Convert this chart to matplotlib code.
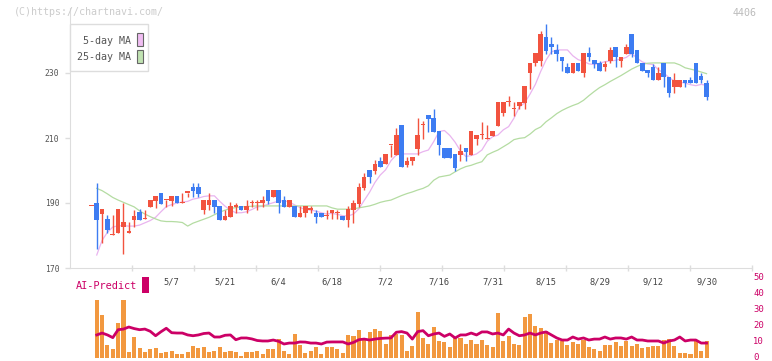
import numpy as np
import matplotlib.pyplot as plt
from matplotlib.patches import Rectangle
from matplotlib.transforms import ScaledTranslation

plt.rcParams['font.family'] = ['DejaVu Sans Mono']

# ---- data (daily candles, 4406) ----
date_labels = ['5/7', '5/21', '6/4', '6/18', '7/2', '7/16', '7/31', '8/15', '8/29', '9/12', '9/30']
label_days = [15, 25, 35, 45, 55, 65, 75, 85, 95, 105, 115]

opens = [189.0, 190.1, 186.6, 185.0, 180.1, 180.9, 182.7, 180.9, 184.8, 187.2,
         185.0, 188.9, 190.7, 193.1, 190.9, 190.7, 192.2, 189.9, 193.2, 195.0,
         195.0, 187.8, 189.5, 190.9, 189.1, 184.8, 185.8, 188.9, 189.1, 187.8,
         189.9, 189.9, 189.9, 194.0, 192.0, 194.0, 190.9, 188.9, 189.1, 185.8,
         186.8, 188.0, 187.0, 187.0, 186.0, 186.8, 186.8, 186.0, 184.8, 187.8,
         189.7, 194.6, 200.2, 199.9, 203.0, 202.0, 207.9, 204.9, 214.0, 201.8,
         202.8, 206.6, 213.9, 217.1, 216.2, 212.3, 206.9, 206.9, 205.1, 204.9,
         206.9, 204.9, 209.8, 210.9, 209.8, 210.7, 213.8, 217.8, 221.1, 218.8,
         219.8, 220.9, 229.9, 233.0, 233.8, 241.0, 238.9, 237.1, 234.8, 231.9,
         229.9, 233.0, 229.9, 236.3, 234.0, 233.0, 231.9, 233.8, 237.9, 233.8,
         235.8, 242.0, 237.1, 233.0, 230.9, 231.9, 227.8, 233.0, 228.9, 225.8,
         225.8, 228.0, 228.0, 233.0, 229.1, 226.8]
highs = [189.0, 196.2, 188.2, 186.2, 186.3, 188.2, 189.9, 184.2, 188.0, 188.1,
         188.0, 190.9, 192.2, 193.1, 190.9, 192.2, 192.2, 193.2, 193.2, 196.2,
         196.2, 190.9, 193.0, 190.9, 189.1, 188.0, 190.3, 189.9, 189.1, 190.9,
         190.9, 190.9, 192.2, 194.0, 194.0, 194.0, 192.2, 190.9, 189.1, 189.1,
         189.1, 189.1, 188.0, 187.0, 188.0, 188.0, 188.0, 186.0, 189.1, 190.9,
         196.3, 199.1, 200.2, 203.2, 204.3, 205.1, 207.9, 213.1, 214.0, 204.3,
         204.1, 216.2, 215.1, 217.1, 218.8, 212.3, 206.9, 206.9, 205.1, 208.2,
         206.9, 212.2, 210.9, 214.9, 214.0, 212.2, 221.1, 221.1, 222.9, 221.1,
         221.1, 226.0, 233.0, 236.3, 242.8, 245.1, 241.0, 238.9, 234.8, 233.0,
         233.0, 233.0, 236.3, 237.9, 234.0, 233.8, 233.8, 238.1, 237.9, 234.8,
         238.9, 242.0, 237.1, 233.0, 230.9, 232.9, 231.9, 233.0, 228.9, 229.9,
         228.0, 228.0, 228.9, 233.0, 229.9, 227.8]
lows = [189.0, 175.9, 177.8, 180.9, 180.1, 180.9, 174.3, 180.9, 182.7, 184.8,
        185.0, 188.9, 188.5, 189.8, 188.9, 189.0, 189.9, 189.9, 192.0, 192.0,
        192.0, 186.6, 187.8, 186.8, 184.8, 184.8, 185.8, 186.8, 187.8, 186.8,
        188.9, 187.8, 188.9, 189.8, 192.0, 186.8, 188.9, 188.9, 185.8, 185.8,
        185.8, 186.8, 183.9, 185.8, 185.0, 185.0, 185.0, 184.8, 182.7, 184.0,
        188.9, 194.0, 196.1, 198.9, 201.0, 202.0, 204.1, 204.9, 201.0, 201.0,
        201.8, 204.9, 209.8, 211.9, 211.9, 204.9, 203.8, 203.8, 199.9, 202.8,
        202.8, 204.9, 207.9, 209.8, 209.8, 210.7, 213.8, 216.9, 219.8, 216.9,
        218.8, 218.8, 225.0, 232.1, 232.1, 235.8, 235.8, 233.8, 230.7, 229.9,
        229.9, 230.7, 228.9, 233.8, 231.5, 230.7, 230.7, 233.0, 232.0, 232.0,
        235.8, 234.8, 233.0, 230.7, 228.9, 227.8, 227.8, 225.8, 222.7, 223.9,
        225.8, 225.8, 226.8, 226.8, 226.8, 221.7]
closes = [189.0, 184.8, 188.2, 181.7, 180.1, 188.2, 184.3, 180.9, 186.0, 184.8,
          185.0, 190.9, 192.2, 189.8, 190.9, 192.2, 189.9, 189.9, 193.2, 193.8,
          192.8, 190.9, 190.9, 188.9, 184.8, 186.0, 189.1, 188.9, 187.8, 189.1,
          189.9, 189.9, 190.9, 190.7, 194.0, 189.9, 188.9, 190.9, 185.8, 187.0,
          189.1, 188.0, 185.8, 185.8, 186.0, 188.0, 186.8, 184.8, 188.1, 190.1,
          195.0, 198.1, 197.9, 202.0, 201.0, 205.1, 207.9, 210.9, 201.0, 202.8,
          204.1, 210.9, 213.9, 215.9, 211.9, 207.9, 203.8, 203.8, 200.8, 206.1,
          205.6, 212.2, 210.9, 210.9, 209.8, 212.2, 221.1, 221.1, 221.1, 218.8,
          221.1, 226.0, 233.0, 236.3, 242.0, 236.9, 237.9, 235.8, 233.8, 229.9,
          233.0, 230.7, 236.3, 234.8, 232.8, 230.7, 232.9, 237.1, 234.8, 234.8,
          237.9, 235.8, 233.0, 230.7, 229.9, 227.8, 229.9, 228.9, 223.9, 228.0,
          228.0, 226.8, 226.8, 226.8, 227.8, 222.7]

ma5 = [None, 174.0, 178.5, 181.0, 182.6, 183.0, 183.0, 182.9, 182.9, 183.2,
       183.9, 184.6, 185.6, 187.3, 188.9, 189.5, 190.0, 190.3, 190.5, 191.2,
       191.5, 192.0, 192.2, 192.2, 190.5, 189.0, 187.8, 187.0, 187.0, 187.3,
       188.0, 188.8, 189.0, 189.6, 190.1, 190.6, 190.7, 190.3, 189.4, 188.6,
       188.0, 187.8, 187.5, 187.0, 186.6, 186.8, 186.5, 186.1, 186.0, 186.6,
       188.2, 190.8, 193.3, 196.3, 198.6, 200.2, 203.0, 204.8, 205.1, 205.1,
       205.1, 205.1, 205.8, 206.3, 208.9, 212.0, 212.3, 210.8, 208.7, 206.0,
       204.3, 204.6, 205.1, 206.3, 209.0, 210.4, 210.9, 212.5, 213.5, 216.1,
       219.5, 220.8, 223.5, 226.5, 230.5, 234.0, 236.5, 237.1, 237.1, 237.1,
       235.3, 234.1, 233.6, 232.8, 232.6, 233.0, 233.5, 233.7, 233.9, 234.3,
       234.8, 236.0, 234.6, 233.4, 232.8, 232.6, 231.0, 230.0, 228.6, 227.5,
       227.2, 226.9, 226.4, 226.1, 226.5, 226.2]
ma25 = [None, 194.5, 193.8, 192.8, 191.7, 190.9, 190.2, 189.5, 188.8, 187.6,
        186.6, 185.8, 185.1, 184.5, 184.3, 184.3, 184.2, 184.0, 182.9, 183.8,
        184.4, 185.0, 185.6, 186.4, 187.2, 187.8, 188.3, 188.6, 188.8, 188.9,
        189.0, 189.1, 189.1, 189.1, 189.1, 189.1, 189.1, 189.1, 189.1, 189.1,
        189.1, 189.1, 189.1, 189.1, 189.1, 188.5, 188.1, 188.1, 188.1, 188.2,
        188.5, 188.8, 189.1, 189.6, 190.2, 190.6, 190.9, 191.6, 192.3, 192.9,
        193.4, 194.0, 194.5, 195.3, 197.0, 198.0, 198.3, 198.6, 199.6, 200.5,
        201.2, 201.6, 202.2, 202.7, 204.8, 205.6, 206.3, 207.3, 208.3, 209.5,
        209.9, 210.1, 211.2, 212.6, 213.4, 215.0, 216.2, 217.5, 218.5, 219.3,
        220.0, 220.6, 221.6, 223.0, 224.3, 225.5, 226.4, 227.4, 228.3, 229.2,
        230.2, 231.2, 232.0, 232.7, 233.0, 233.1, 233.1, 233.1, 233.1, 233.1,
        232.5, 231.6, 231.2, 230.8, 230.3, 229.8]

# lower panel starts with the second day
volume = [36.7, 27.0, 8.2, 5.7, 22.0, 36.7, 4.0, 13.2, 6.1, 3.6,
          5.7, 6.3, 3.1, 4.0, 4.4, 2.5, 2.5, 3.6, 7.5, 6.5,
          6.9, 3.8, 4.4, 6.9, 3.8, 4.4, 3.6, 1.3, 3.6, 3.6,
          4.4, 2.5, 5.7, 5.7, 11.9, 4.4, 2.5, 15.1, 8.2, 3.1,
          4.4, 6.9, 2.5, 6.9, 6.9, 5.7, 3.1, 14.5, 13.8, 17.6,
          11.9, 16.4, 18.2, 16.8, 8.8, 14.3, 15.0, 14.5, 4.4, 7.3,
          28.7, 12.6, 8.8, 19.5, 10.5, 10.1, 6.9, 12.6, 12.6, 8.8,
          11.3, 8.8, 11.3, 8.2, 6.9, 28.3, 10.5, 13.8, 8.8, 8.2,
          25.8, 27.7, 20.1, 18.9, 17.0, 9.4, 11.3, 10.7, 8.2, 10.1,
          8.8, 11.3, 6.9, 5.7, 4.4, 8.2, 8.2, 10.1, 7.5, 10.7,
          7.5, 8.8, 6.3, 6.9, 7.5, 7.5, 11.3, 11.9, 7.5, 3.1,
          3.1, 2.5, 10.7, 4.4, 10.7]
ai_predict = [14.5, 15.7, 14.5, 12.8, 17.8, 18.2, 19.5, 18.5, 17.8, 18.2,
              16.8, 14.0, 16.5, 18.7, 15.9, 15.7, 15.7, 14.5, 14.0, 14.5,
              15.4, 15.7, 13.2, 13.2, 14.3, 14.5, 11.5, 12.6, 12.6, 12.0,
              11.0, 10.7, 10.7, 11.3, 10.5, 8.8, 9.4, 9.4, 10.1, 10.0,
              9.4, 9.4, 8.8, 10.0, 10.1, 10.1, 10.1, 8.8, 9.8, 11.5,
              11.9, 11.3, 11.9, 12.3, 12.5, 12.6, 16.2, 16.6, 15.7, 11.9,
              16.6, 17.2, 14.0, 15.1, 15.7, 13.6, 15.1, 12.6, 14.5, 14.5,
              15.7, 14.5, 16.4, 16.4, 15.1, 15.7, 14.5, 18.2, 15.7, 14.0,
              14.5, 15.7, 14.5, 15.7, 16.4, 14.5, 12.6, 11.3, 11.3, 13.2,
              11.9, 12.6, 11.3, 11.9, 11.9, 13.2, 11.9, 12.6, 12.6, 11.9,
              13.2, 11.3, 11.3, 10.7, 10.7, 10.7, 9.4, 10.7, 11.3, 13.2,
              10.7, 11.3, 11.3, 9.4, 9.4]

# ---- drawing ----
o = np.array(opens); h = np.array(highs); l = np.array(lows); c = np.array(closes)
x = np.arange(len(c))
vx = np.arange(1, len(volume) + 1)
RED, BLUE = '#f2533f', '#3d7cf2'
cols = np.where(c >= o, RED, BLUE)
AXC = '#dddddd'
PINK = '#cc0066'

W, H = 772, 361
def box(left, top, right, bottom):
    return [left / W, 1 - bottom / H, (right - left) / W, (bottom - top) / H]

fig = plt.figure(figsize=(W / 100, H / 100), dpi=100)
ax2 = fig.add_axes(box(70, 278.5, 752, 358))
ax = fig.add_axes(box(70, 8, 752, 268))
ax.patch.set_visible(False)
ax2.patch.set_visible(False)
xlo, xhi = -4.0, 123.5

# price panel
ax.plot(x, np.array(ma5, dtype=float), color='#e9b4ef', lw=0.9, zorder=1)
ax.plot(x, np.array(ma25, dtype=float), color='#b4dca2', lw=0.9, zorder=1)
ax.vlines(x, l, h, colors=cols, lw=1.0, zorder=2)
ax.bar(x, np.maximum(np.abs(c - o), 0.35), bottom=np.minimum(o, c), width=0.86,
       color=cols, zorder=3)

ax.set_xlim(xlo, xhi)
ax.set_ylim(170, 250)
for s in ['top', 'right']:
    ax.spines[s].set_visible(False)
for s in ['left', 'bottom']:
    ax.spines[s].set_color(AXC)
ax.set_yticks([170, 190, 210, 230])
ax.tick_params(axis='y', colors=AXC, labelcolor='#555555', labelsize=5.8,
               length=3.6, width=1, pad=4)
ax.set_xticks([xlo + (xhi - xlo) * k / 11 for k in range(1, 12)])
ax.set_xticklabels([])
ax.tick_params(axis='x', which='major', colors=AXC, length=4.5, width=1, direction='inout')
ax.set_xticks(label_days, date_labels, minor=True)
ax.tick_params(axis='x', which='minor', length=0, pad=7, labelsize=6.3,
               labelcolor='#444444')

# legend box
fig.add_artist(Rectangle((70 / W, 1 - 71 / H), 78 / W, 47 / H, transform=fig.transFigure,
                         fc='white', ec=AXC, lw=1, zorder=5))
fig.text(131 / W, 1 - 41 / H, '5-day MA', ha='right', va='center', fontsize=7.2,
         color='#555555', zorder=6)
fig.text(131 / W, 1 - 57 / H, '25-day MA', ha='right', va='center', fontsize=7.2,
         color='#555555', zorder=6)
fig.add_artist(Rectangle((137 / W, 1 - 46 / H), 5.5 / W, 13.5 / H, transform=fig.transFigure,
                         fc='#f0bdf2', ec='#666666', lw=0.8, zorder=6))
fig.add_artist(Rectangle((137 / W, 1 - 63 / H), 5.5 / W, 13.5 / H, transform=fig.transFigure,
                         fc='#c0e2b2', ec='#666666', lw=0.8, zorder=6))

fig.text(14 / W, 1 - 12 / H, '(C)https://chartnavi.com/', ha='left', va='center',
         fontsize=7.2, color='#cccccc')
fig.text(757 / W, 1 - 13 / H, '4406', ha='right', va='center', fontsize=7.2,
         color='#bbbbbb')

# AI-predict panel
ax2.bar(vx, volume, width=0.76, color='#f2983f', zorder=1)
ax2.plot(vx, ai_predict, color=PINK, lw=2.0, zorder=2)
ax2.set_xlim(xlo, xhi)
ax2.set_ylim(0, 50)
for s in ax2.spines.values():
    s.set_visible(False)
ax2.set_xticks([])
ax2.yaxis.tick_right()
ax2.set_yticks([0, 10, 20, 30, 40, 50])
ax2.tick_params(axis='y', length=0, pad=1, labelsize=6.4, labelcolor=PINK)
shift = ScaledTranslation(0, 1.2 / 72, fig.dpi_scale_trans)
for lbl in ax2.get_yticklabels():
    lbl.set_transform(lbl.get_transform() + shift)

fig.text(76 / W, 1 - 286 / H, 'AI-Predict', ha='left', va='center', fontsize=7.4, color=PINK)
fig.add_artist(Rectangle((142 / W, 1 - 293 / H), 6.5 / W, 16 / H, transform=fig.transFigure,
                         fc=PINK, ec='none'))

fig.savefig('out.png', dpi=100)
